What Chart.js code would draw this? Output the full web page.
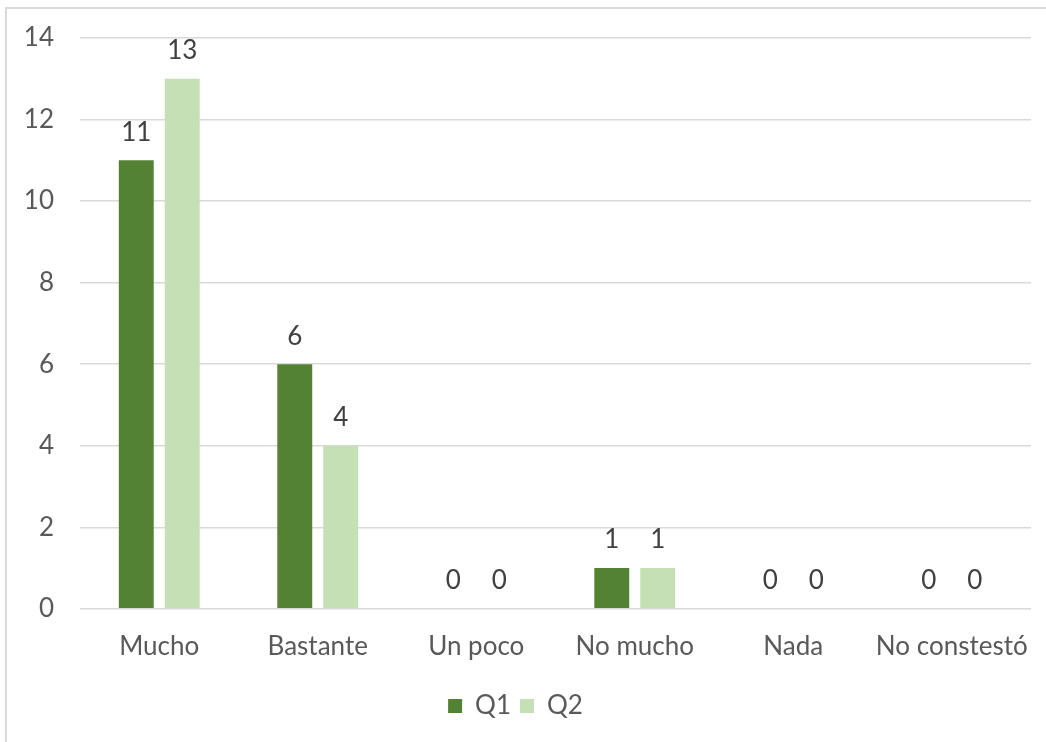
<!DOCTYPE html>
<html>
<head>
<meta charset="utf-8">
<script src="https://cdn.jsdelivr.net/npm/chart.js@4"></script>
<style>
  html, body { margin: 0; padding: 0; background: #fff; }
  #wrap { position: relative; width: 1046px; height: 742px; }
  #frame {
    position: absolute; left: 5px; top: 7px; right: -10px; bottom: -10px;
    border-left: 2px solid #d9d9d9; border-top: 2px solid #d9d9d9;
    pointer-events: none;
  }
</style>
</head>
<body>
<div id="wrap">
  <canvas id="chart" width="1046" height="742"></canvas>
  <div id="frame"></div>
</div>
<script>
// === DATOS ===
const categorias = ["Mucho", "Bastante", "Un poco", "No mucho", "Nada", "No constestó"];
const valoresQ1 = [11, 6, 0, 1, 0, 0];
const valoresQ2 = [13, 4, 0, 1, 0, 0];
const ticksY = [0, 2, 4, 6, 8, 10, 12, 14];

const FUENTE = "Lato, 'Open Sans', sans-serif";
const TAM = 26;

// etiquetas de valor encima de cada barra
const etiquetasPlugin = {
    id: "etiquetas",
    afterDatasetsDraw(chart) {
        const ctx = chart.ctx;
        ctx.save();
        ctx.font = `${TAM}px ${FUENTE}`;
        ctx.fillStyle = "#404040";
        ctx.textAlign = "center";
        ctx.textBaseline = "middle";
        chart.data.datasets.forEach((ds, i) => {
            chart.getDatasetMeta(i).data.forEach((bar, j) => {
                ctx.fillText(String(ds.data[j]), bar.x, bar.y - 28);
            });
        });
        ctx.restore();
    }
};

new Chart(document.getElementById("chart"), {
    type: "bar",
    data: {
        labels: categorias,
        datasets: [
            { label: "Q1", data: valoresQ1, backgroundColor: "#548235" },
            { label: "Q2", data: valoresQ2, backgroundColor: "#c5e0b4" }
        ]
    },
    options: {
        responsive: false,
        animation: false,
        categoryPercentage: 0.58,
        barPercentage: 0.76,
        layout: { padding: { top: 38, right: 15, left: 0, bottom: 13 } },
        plugins: {
            legend: {
                position: "bottom",
                labels: {
                    boxWidth: 14, boxHeight: 14, padding: 9,
                    color: "#595959",
                    font: { family: FUENTE, size: TAM }
                }
            },
            tooltip: { enabled: false }
        },
        scales: {
            y: {
                min: 0, max: 14,
                afterBuildTicks: (scale) => { scale.ticks = ticksY.map(v => ({ value: v })); },
                afterFit: (scale) => {
                    scale.width = 80;
                    scale.paddingTop = 0;
                    scale.paddingBottom = 0;
                },
                border: { display: false },
                grid: { color: "#d9d9d9", lineWidth: 1.5, drawTicks: false },
                ticks: { padding: 26, color: "#595959", font: { family: FUENTE, size: TAM } }
            },
            x: {
                afterFit: (scale) => {
                    scale.paddingLeft = 0;
                    scale.paddingRight = 0;
                },
                border: { display: false },
                grid: { display: false, drawTicks: false },
                ticks: {
                    padding: 22, maxRotation: 0, minRotation: 0, autoSkip: false,
                    color: "#595959", font: { family: FUENTE, size: TAM }
                }
            }
        }
    },
    plugins: [etiquetasPlugin]
});
</script>
</body>
</html>
